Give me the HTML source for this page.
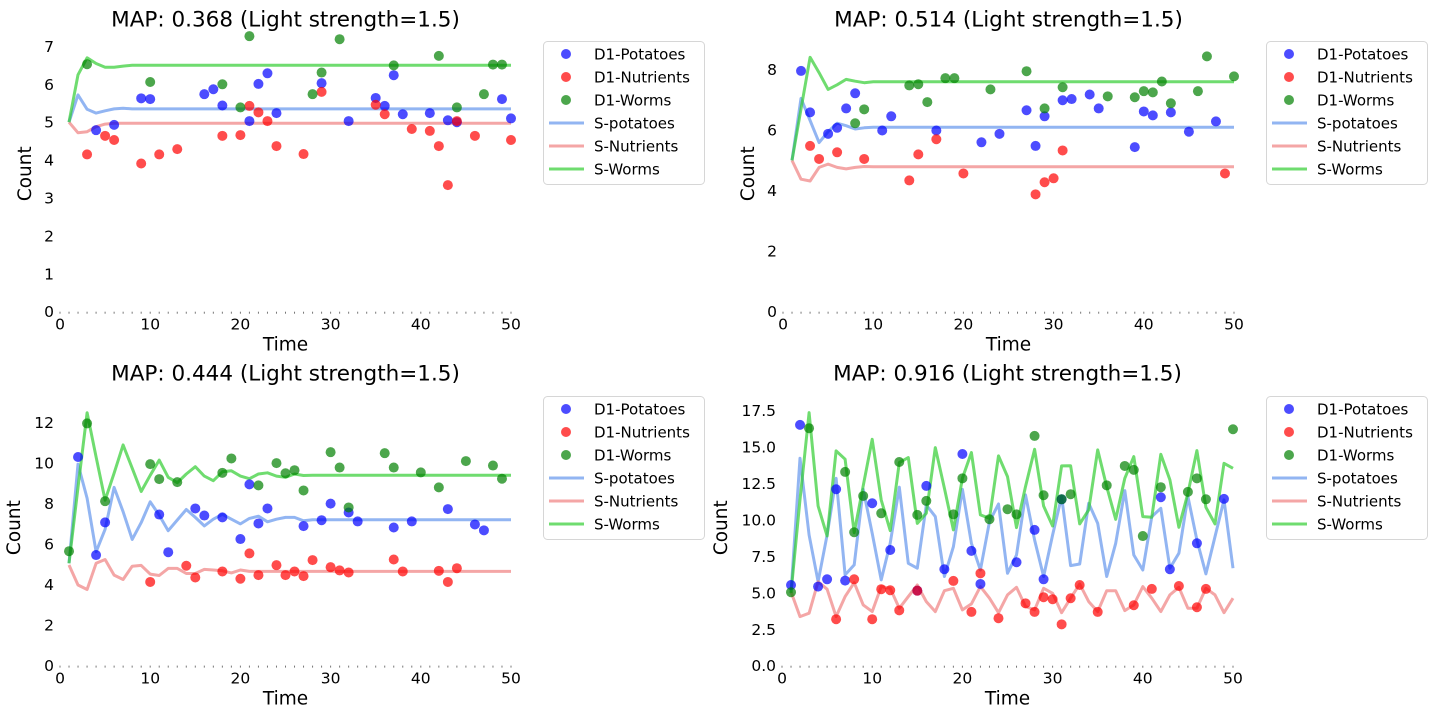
<!DOCTYPE html>
<html><head><meta charset="utf-8"><style>
html,body{margin:0;padding:0;background:#fff;}
svg{display:block;font-family:"DejaVu Sans","Liberation Sans",sans-serif;}
</style></head><body>
<svg id="chart" width="1440" height="720" viewBox="0 0 1440 720"></svg>
<script>
const lineTimes=[1,2,3,4,5,6,7,8,9,10,11,12,13,14,15,16,17,18,19,20,21,22,23,24,25,26,27,28,29,30,31,32,33,34,35,36,37,38,39,40,41,42,43,44,45,46,47,48,49,50];
const xTicks=[0,10,20,30,40,50];
const titles=["MAP: 0.368 (Light strength=1.5)","MAP: 0.514 (Light strength=1.5)","MAP: 0.444 (Light strength=1.5)","MAP: 0.916 (Light strength=1.5)"];
const legendLabels=["D1-Potatoes","D1-Nutrients","D1-Worms","S-potatoes","S-Nutrients","S-Worms"];
const p1YTicks=[0,1,2,3,4,5,6,7];
const p2YTicks=[0,2,4,6,8];
const p3YTicks=[0,2,4,6,8,10,12];
const p4YTicks=[0,2.5,5,7.5,10,12.5,15,17.5];

// Panel 1
const p1PotT=[4,6,9,10,16,17,18,21,22,23,24,29,32,35,36,37,38,41,43,44,49,50];
const p1PotV=[4.79,4.93,5.63,5.61,5.74,5.87,5.44,5.03,6.01,6.29,5.24,6.03,5.03,5.64,5.43,6.24,5.21,5.24,5.05,5.0,5.61,5.1];
const p1NutT=[3,5,6,9,11,13,18,20,21,22,23,24,27,29,35,36,39,41,42,43,44,46,50];
const p1NutV=[4.15,4.64,4.53,3.91,4.15,4.29,4.64,4.66,5.43,5.26,5.03,4.37,4.16,5.8,5.46,5.21,4.82,4.77,4.37,3.34,5.03,4.64,4.53];
const p1WormT=[3,10,18,20,21,28,29,31,37,42,44,47,48,49];
const p1WormV=[6.53,6.06,6.0,5.39,7.27,5.74,6.31,7.19,6.5,6.75,5.39,5.74,6.52,6.52];
const p1SPot=[5,5.72,5.34,5.24,5.3,5.35,5.37,5.35,5.35,5.35,5.35,5.35,5.35,5.35,5.35,5.35,5.35,5.35,5.35,5.35,5.35,5.35,5.35,5.35,5.35,5.35,5.35,5.35,5.35,5.35,5.35,5.35,5.35,5.35,5.35,5.35,5.35,5.35,5.35,5.35,5.35,5.35,5.35,5.35,5.35,5.35,5.35,5.35,5.35,5.35];
const p1SNut=[5,4.72,4.75,4.88,4.95,4.97,4.97,4.97,4.97,4.97,4.97,4.97,4.97,4.97,4.97,4.97,4.97,4.97,4.97,4.97,4.97,4.97,4.97,4.97,4.97,4.97,4.97,4.97,4.97,4.97,4.97,4.97,4.97,4.97,4.97,4.97,4.97,4.97,4.97,4.97,4.97,4.97,4.97,4.97,4.97,4.97,4.97,4.97,4.97,4.97];
const p1SWorm=[5,6.25,6.7,6.55,6.45,6.45,6.48,6.5,6.5,6.5,6.5,6.5,6.5,6.5,6.5,6.5,6.5,6.5,6.5,6.5,6.5,6.5,6.5,6.5,6.5,6.5,6.5,6.5,6.5,6.5,6.5,6.5,6.5,6.5,6.5,6.5,6.5,6.5,6.5,6.5,6.5,6.5,6.5,6.5,6.5,6.5,6.5,6.5,6.5,6.5];

// Panel 2
const p2PotT=[2,3,5,6,7,8,11,12,17,22,24,27,28,29,31,32,34,35,39,40,41,43,45,48];
const p2PotV=[7.96,6.59,5.88,6.08,6.72,7.22,5.99,6.46,5.99,5.60,5.88,6.66,5.48,6.46,6.99,7.03,7.18,6.72,5.44,6.62,6.49,6.59,5.95,6.29];
const p2NutT=[3,4,6,9,14,15,17,20,28,29,30,31,49];
const p2NutV=[5.48,5.05,5.27,5.05,4.34,5.2,5.70,4.57,3.88,4.28,4.41,5.33,4.57];
const p2WormT=[8,9,14,15,16,18,19,23,27,29,31,36,39,40,41,42,43,46,47,50];
const p2WormV=[6.23,6.69,7.48,7.52,6.93,7.72,7.72,7.35,7.95,6.72,7.42,7.12,7.09,7.29,7.25,7.61,6.89,7.29,8.44,7.78];
const p2SPot=[5,7.05,6.32,5.59,5.95,6.23,6.15,6.04,6.08,6.1,6.1,6.1,6.1,6.1,6.1,6.1,6.1,6.1,6.1,6.1,6.1,6.1,6.1,6.1,6.1,6.1,6.1,6.1,6.1,6.1,6.1,6.1,6.1,6.1,6.1,6.1,6.1,6.1,6.1,6.1,6.1,6.1,6.1,6.1,6.1,6.1,6.1,6.1,6.1,6.1];
const p2SNut=[5,4.38,4.32,4.77,4.88,4.77,4.72,4.77,4.8,4.79,4.79,4.79,4.79,4.79,4.79,4.79,4.79,4.79,4.79,4.79,4.79,4.79,4.79,4.79,4.79,4.79,4.79,4.79,4.79,4.79,4.79,4.79,4.79,4.79,4.79,4.79,4.79,4.79,4.79,4.79,4.79,4.79,4.79,4.79,4.79,4.79,4.79,4.79,4.79,4.79];
const p2SWorm=[5,6.7,8.41,7.9,7.35,7.5,7.68,7.62,7.57,7.6,7.6,7.6,7.6,7.6,7.6,7.6,7.6,7.6,7.6,7.6,7.6,7.6,7.6,7.6,7.6,7.6,7.6,7.6,7.6,7.6,7.6,7.6,7.6,7.6,7.6,7.6,7.6,7.6,7.6,7.6,7.6,7.6,7.6,7.6,7.6,7.6,7.6,7.6,7.6,7.6];

// Panel 3
const p3PotT=[2,4,5,11,12,15,16,18,20,21,22,23,27,29,30,32,33,37,39,43,46,47];
const p3PotV=[10.3,5.46,7.07,7.46,5.6,7.76,7.41,7.32,6.25,8.95,7.02,7.76,6.89,7.18,8.0,7.56,7.12,6.82,7.12,7.73,6.97,6.68];
const p3NutT=[10,14,15,18,20,21,22,24,25,26,27,28,30,31,32,37,38,42,43,44];
const p3NutV=[4.13,4.93,4.35,4.65,4.29,5.54,4.47,4.96,4.47,4.65,4.42,5.21,4.86,4.7,4.6,5.24,4.65,4.68,4.13,4.81];
const p3WormT=[1,3,5,10,11,13,18,19,22,24,25,26,27,30,31,32,36,37,40,42,45,48,49];
const p3WormV=[5.65,11.96,8.12,9.95,9.21,9.06,9.52,10.23,8.9,10.0,9.5,9.65,8.65,10.54,9.78,7.81,10.49,9.78,9.54,8.8,10.1,9.88,9.23];
const p3SPot=[5.05,9.95,8.26,5.62,6.73,8.8,7.6,6.23,7.06,8.09,7.43,6.66,7.19,7.71,7.32,6.9,7.23,7.47,7.23,7.0,7.27,7.38,7.1,7.23,7.32,7.32,7.15,7.2,7.2,7.2,7.2,7.2,7.2,7.2,7.2,7.2,7.2,7.2,7.2,7.2,7.2,7.2,7.2,7.2,7.2,7.2,7.2,7.2,7.2,7.2];
const p3SNut=[4.97,3.98,3.76,5.05,5.24,4.47,4.25,4.91,4.95,4.52,4.45,4.8,4.8,4.55,4.55,4.75,4.72,4.68,4.58,4.72,4.65,4.65,4.65,4.65,4.65,4.65,4.65,4.65,4.65,4.65,4.65,4.65,4.65,4.65,4.65,4.65,4.65,4.65,4.65,4.65,4.65,4.65,4.65,4.65,4.65,4.65,4.65,4.65,4.65,4.65];
const p3SWorm=[5.05,8.8,12.49,10.3,8.17,9.5,10.9,9.75,8.6,9.4,10.15,9.3,9.03,9.46,9.82,9.36,9.13,9.57,9.62,9.36,9.23,9.46,9.52,9.36,9.3,9.46,9.39,9.4,9.4,9.4,9.4,9.4,9.4,9.4,9.4,9.4,9.4,9.4,9.4,9.4,9.4,9.4,9.4,9.4,9.4,9.4,9.4,9.4,9.4,9.4];

// Panel 4
const p4PotT=[1,2,4,5,6,7,10,12,15,16,18,20,21,22,26,28,29,31,42,43,46,49];
const p4PotV=[5.54,16.53,5.43,5.93,12.11,5.84,11.15,7.94,5.15,12.34,6.62,14.53,7.88,5.61,7.1,9.32,5.93,11.42,11.56,6.62,8.4,11.45];
const p4NutT=[6,8,10,11,12,13,15,19,21,22,24,27,28,29,30,31,32,33,35,39,41,44,46,47];
const p4NutV=[3.19,5.93,3.19,5.25,5.18,3.8,5.15,5.82,3.69,6.34,3.26,4.28,3.69,4.7,4.56,2.84,4.63,5.54,3.69,4.15,5.27,5.47,4.01,5.27];
const p4WormT=[1,3,7,8,9,11,13,15,16,19,20,23,25,26,28,29,31,32,36,38,39,40,42,45,46,47,50];
const p4WormV=[5.04,16.3,13.3,9.16,11.65,10.46,13.98,10.35,11.31,10.39,12.86,10.05,10.74,10.39,15.77,11.7,11.42,11.77,12.38,13.71,13.44,8.9,12.25,11.93,12.86,11.42,16.23];
const p4SPot=[5,14.24,8.97,5.77,8.97,12.86,6.23,6.92,12.11,9.09,5.89,8.4,12.25,7.03,6.69,11.03,10.23,6.12,8.17,12.11,8.4,6.57,9.89,11.1,6.34,7.6,11.72,8.63,6.12,8.97,11.61,6.87,6.98,11.15,9.77,6.12,8.4,12.02,7.6,6.57,10.23,10.8,6.69,7.72,11.61,8.63,6.3,8.86,11.38,6.69];
const p4SNut=[5.08,3.37,3.6,5.77,5.25,3.37,4.74,5.7,4.17,3.71,5.43,5.31,3.94,4.74,5.54,4.4,3.71,5.15,5.31,3.83,4.24,5.43,4.63,3.64,4.86,5.38,4.06,3.83,5.31,4.97,3.64,4.63,5.61,4.4,3.71,5.15,5.15,3.78,4.17,5.43,4.63,3.71,4.86,5.38,3.94,3.94,5.31,4.86,3.64,4.63];
const p4SWorm=[5,11.4,17.37,10.96,8.9,14.74,14.17,9.13,12.34,15.54,11.38,9.27,13.94,14.28,9.77,10.46,14.97,12.18,9.32,12.86,14.63,10.35,10.12,14.4,12.98,9.48,12.29,14.85,10.96,9.59,13.71,13.73,9.73,10.69,14.81,12.29,10.05,12.86,14.35,10.23,10.19,14.51,12.75,9.5,11.83,14.76,10.87,9.73,13.89,13.55];

const NS='http://www.w3.org/2000/svg';
const svg=document.getElementById('chart');
function mk(tag,attrs,parent,text){const e=document.createElementNS(NS,tag);for(const k in attrs)e.setAttribute(k,attrs[k]);if(text!==undefined)e.textContent=text;(parent||svg).appendChild(e);return e;}

const COL={pt:'rgba(0,0,255,0.7)',nt:'rgba(255,0,0,0.7)',wm:'rgba(0,128,0,0.7)',sp:'rgba(100,149,237,0.7)',sn:'rgba(240,128,128,0.7)',sw:'rgba(50,205,50,0.7)'};

const panels=[
 {x0:60,y0:311.7,sx:9.02,sy:37.9,yt:p1YTicks,dec:0,title:titles[0],cl:31,lg:[543,41],pot:[p1PotT,p1PotV],nut:[p1NutT,p1NutV],worm:[p1WormT,p1WormV],sp:p1SPot,sn:p1SNut,sw:p1SWorm},
 {x0:783,y0:311.7,sx:9.02,sy:30.25,yt:p2YTicks,dec:0,title:titles[1],cl:754,lg:[1266,41],pot:[p2PotT,p2PotV],nut:[p2NutT,p2NutV],worm:[p2WormT,p2WormV],sp:p2SPot,sn:p2SNut,sw:p2SWorm},
 {x0:60,y0:665.6,sx:9.02,sy:20.25,yt:p3YTicks,dec:0,title:titles[2],cl:20,lg:[543,396],pot:[p3PotT,p3PotV],nut:[p3NutT,p3NutV],worm:[p3WormT,p3WormV],sp:p3SPot,sn:p3SNut,sw:p3SWorm},
 {x0:782,y0:665.7,sx:9.02,sy:14.57,yt:p4YTicks,dec:1,title:titles[3],cl:727,lg:[1266,396],pot:[p4PotT,p4PotV],nut:[p4NutT,p4NutV],worm:[p4WormT,p4WormV],sp:p4SPot,sn:p4SNut,sw:p4SWorm}
];

panels.forEach((p,i)=>{
 const g=mk('g',{});
 
 
 const X=t=>p.x0+t*p.sx, Y=v=>p.y0-v*p.sy;
 const cx=X(25);
 const top=p.y0-276;
 const tt=mk('text',{x:cx,y:top-9,'text-anchor':'middle','font-size':21.5,fill:'#000'},g,p.title);
 
 
 for(let t=0;t<=50;t++){const d=mk('rect',{x:X(t)-0.5,y:p.y0,width:1,height:2,fill:'#777'},g);
  
  }
 xTicks.forEach(t=>{const e=mk('text',{x:X(t),y:p.y0+18,'text-anchor':'middle','font-size':15.5,fill:'#000'},g,String(t));
  
  });
 p.yt.forEach(v=>{const e=mk('text',{x:p.x0-6,y:Y(v)+5.5,'text-anchor':'end','font-size':15.5,fill:'#000'},g,v.toFixed(p.dec));
  
  });
 const xl=mk('text',{x:cx,y:p.y0+39,'text-anchor':'middle','font-size':18.5,fill:'#000'},g,'Time');
 
 
 const ymid=(p.y0+top)/2;
 const yl=mk('text',{x:p.cl,y:ymid,'text-anchor':'middle','font-size':18.5,fill:'#000',transform:`rotate(-90 ${p.cl} ${ymid})`},g,'Count');
 
 
 [[p.sp,COL.sp,'s-potatoes-line'],[p.sn,COL.sn,'s-nutrients-line'],[p.sw,COL.sw,'s-worms-line']].forEach(([arr,c,n])=>{
  const d=arr.map((v,k)=>(k?'L':'M')+X(lineTimes[k]).toFixed(1)+','+Y(v).toFixed(1)).join(' ');
  const pa=mk('path',{d:d,fill:'none',stroke:c,'stroke-width':3,'stroke-linejoin':'round'},g);
  
  
 });
 [[p.pot,COL.pt,'d1-potatoes-point'],[p.nut,COL.nt,'d1-nutrients-point'],[p.worm,COL.wm,'d1-worms-point']].forEach(([s,c,n])=>{
  s[0].forEach((t,k)=>{const ci=mk('circle',{cx:X(t),cy:Y(s[1][k]),r:5,fill:c},g);
   
   });
 });
 const [lx,ly]=p.lg;
 const lg=mk('g',{},g);
 
 
 mk('rect',{x:lx+0.5,y:ly+0.5,width:161,height:143,rx:4,fill:'#fff',stroke:'#d6d6d6'},lg);
 const lc=[COL.pt,COL.nt,COL.wm,COL.sp,COL.sn,COL.sw];
 legendLabels.forEach((lab,k)=>{
  const ry=ly+13+k*23;
  const it=mk('g',{},lg);
  
  
  if(k<3) mk('circle',{cx:lx+23,cy:ry,r:5,fill:lc[k]},it);
  else mk('line',{x1:lx+6,y1:ry,x2:lx+41,y2:ry,stroke:lc[k],'stroke-width':3},it);
  mk('text',{x:lx+51,y:ry+5.5,'font-size':15,fill:'#000'},it,lab);
 });
});
</script>
</body></html>
